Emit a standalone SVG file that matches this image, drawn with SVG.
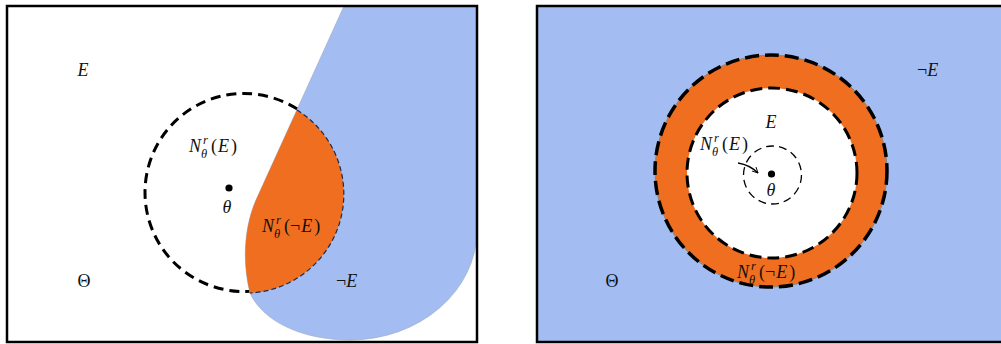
<svg xmlns="http://www.w3.org/2000/svg" width="1001" height="344" viewBox="0 0 1001 344">
  <defs>
    <style>
      text { font-family: 'Liberation Serif', 'Times New Roman', serif; }
      .t { font-size: 18px; fill: #111; }
      .i { font-style: italic; }
      .u { font-style: normal; }
      .s { font-size: 12.5px; font-style: italic; }
      .blue { fill: #A3BDF2; }
      .orange { fill: #F06E1F; }
      .frame { fill: none; stroke: #000; stroke-width: 2.5; }
      .dashBig { fill: none; stroke: #000; stroke-width: 3; stroke-dasharray: 10 6; }
      .dashThin { fill: none; stroke: #1a2a55; stroke-width: 1.2; stroke-dasharray: 5 3; }
    </style>
    <marker id="arr" viewBox="0 0 10 10" refX="9" refY="5" markerWidth="7" markerHeight="7" orient="auto" markerUnits="userSpaceOnUse">
      <path d="M1,1 L9,5 L1,9" fill="none" stroke="#000" stroke-width="1.3"/>
    </marker>
  </defs>

  <rect x="0" y="0" width="1001" height="344" fill="#fff"/>

  <!-- LEFT PANEL -->
  <g id="left-panel">
    <g id="left-neighbourhood">
      <circle cx="244" cy="192.5" r="99" class="dashBig"/>
    </g>
    <g id="left-notE">
      <path class="blue" stroke="#9aa8c0" stroke-width="0.6" d="M344,6 L477,6 L477,230 A127,110 0 0 1 350,340 C300,340 262,320 250,293 C243,265 243,230 256,200 Z"/>
    </g>
    <g id="left-N-notE">
      <path class="orange" d="M297,110 A99,99 0 0 1 250,293 C243,265 243,230 256,200 Z"/>
      <path class="dashThin" d="M297,110 A99,99 0 0 1 250,293"/>
    </g>
    <g id="left-theta">
      <circle cx="229" cy="188" r="3.6" fill="#000"/>
    </g>
    <rect class="frame" x="7" y="6" width="470" height="336"/>

    <text class="t i" x="83" y="76" text-anchor="middle">E</text>
    <text class="t u" x="84" y="287" text-anchor="middle">Θ</text>
    <text class="t i" x="227" y="213" text-anchor="middle">θ</text>
    <text class="t i" x="189" y="152">N<tspan class="s" x="203" y="144">r</tspan><tspan class="s" x="201" y="158">θ</tspan><tspan class="u" x="211" y="152">(</tspan><tspan dx="1">E</tspan><tspan class="u" dx="2">)</tspan></text>
    <text class="t i" x="262" y="232">N<tspan class="s" x="276" y="224">r</tspan><tspan class="s" x="274" y="238">θ</tspan><tspan class="u" x="284" y="232">(¬</tspan><tspan dx="1">E</tspan><tspan class="u" dx="2">)</tspan></text>
    <text class="t i" x="336" y="287"><tspan class="u">¬</tspan>E</text>
  </g>

  <!-- RIGHT PANEL -->
  <g id="right-panel">
    <rect class="blue" x="537" y="6" width="470" height="336"/>
    <g id="right-N-notE">
      <circle cx="771" cy="171" r="116" class="orange" stroke="#888" stroke-width="1"/>
      <circle cx="771" cy="171" r="116" fill="none" stroke="#000" stroke-width="3.5" stroke-dasharray="14 6"/>
    </g>
    <g id="right-E">
      <circle cx="772" cy="173" r="85" fill="#fff"/>
      <circle cx="772" cy="173" r="85" fill="none" stroke="#000" stroke-width="3" stroke-dasharray="12 6"/>
    </g>
    <g id="right-N-E">
      <circle cx="772.5" cy="175" r="29" fill="none" stroke="#000" stroke-width="1.3" stroke-dasharray="8 5"/>
    </g>
    <g id="right-theta">
      <circle cx="771.5" cy="174" r="3.6" fill="#000"/>
    </g>
    <g id="connectors">
      <path d="M738,163 Q750,165 758,173" fill="none" stroke="#000" stroke-width="1.3" marker-end="url(#arr)"/>
    </g>
    <rect class="frame" x="537" y="6" width="470" height="336"/>

    <text class="t i" x="771" y="128" text-anchor="middle">E</text>
    <text class="t i" x="771" y="196" text-anchor="middle">θ</text>
    <text class="t u" x="612" y="287" text-anchor="middle">Θ</text>
    <text class="t i" x="917" y="76"><tspan class="u">¬</tspan>E</text>
    <text class="t i" x="700" y="150">N<tspan class="s" x="714" y="142">r</tspan><tspan class="s" x="712" y="156">θ</tspan><tspan class="u" x="722" y="150">(</tspan><tspan dx="1">E</tspan><tspan class="u" dx="2">)</tspan></text>
    <text class="t i" x="737" y="278">N<tspan class="s" x="751" y="270">r</tspan><tspan class="s" x="749" y="284">θ</tspan><tspan class="u" x="759" y="278">(¬</tspan><tspan dx="1">E</tspan><tspan class="u" dx="2">)</tspan></text>
  </g>
</svg>
